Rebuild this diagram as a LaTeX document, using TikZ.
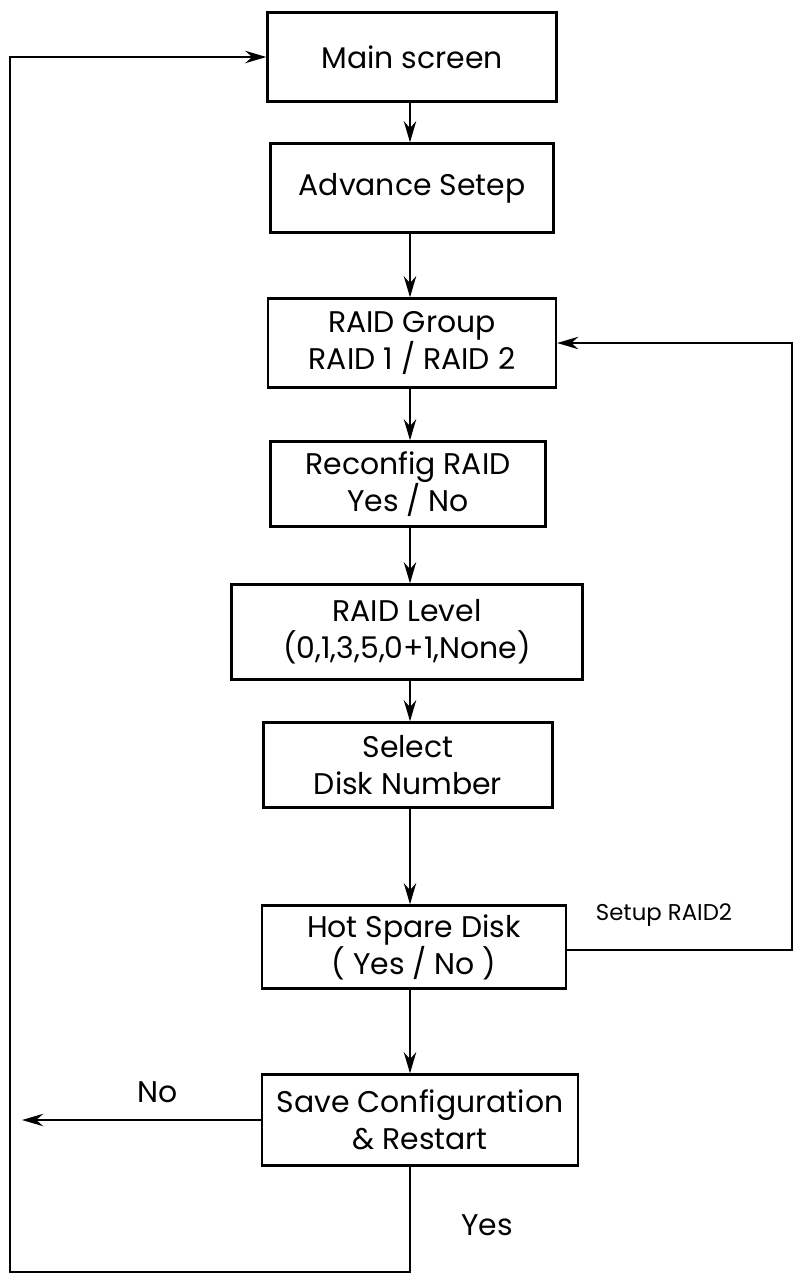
\documentclass[tikz,border=0pt]{standalone}
\usepackage{fontspec}
\setmainfont{Poppins}
\usepackage{tikz}
\usetikzlibrary{arrows.meta}
\tikzset{
  stepbox/.style={
    draw=black,line width=1.3pt,
    minimum height=1.78cm,
    font=\fontsize{17}{21}\selectfont,
    align=center,inner sep=2pt
  },
  flow/.style={
    line width=1.5pt,-{Stealth[length=12pt,width=7pt]}
  },
  lbl/.style={font=\fontsize{17}{20}\selectfont},
  smlbl/.style={font=\fontsize{13}{15}\selectfont},
}
\begin{document}
\begin{tikzpicture}[x=0.02cm,y=-0.02cm]
  \useasboundingbox (0,0) rectangle (796,1282);
  \node[stepbox, minimum width=5.78cm] (main) at (412, 57)  {Main screen};
  \node[stepbox, minimum width=5.66cm] (adv)  at (412,188)  {Advance Setep};
  \node[stepbox, minimum width=5.76cm] (grp)  at (412,343)  {RAID Group\\RAID 1 / RAID 2};
  \node[stepbox, minimum width=5.50cm, minimum height=1.70cm] (recfg) at (408,484) {Reconfig RAID\\Yes / No};
  \node[stepbox, minimum width=7.02cm, minimum height=1.90cm] (lvl) at (407,632) {RAID Level\\(0,1,3,5,0+1,None)};
  \node[stepbox, minimum width=5.78cm, minimum height=1.70cm] (sel) at (408,765) {Select\\Disk Number};
  \node[stepbox, minimum width=6.08cm, minimum height=1.66cm] (spare) at (414,947) {Hot Spare Disk\\( Yes / No )};
  \node[stepbox, minimum width=6.32cm, minimum height=1.82cm] (save) at (420,1120) {Save Configuration\\\& Restart};
  % main column
  \draw[flow] (main.south -| 410,0) -- (adv.north -| 410,0);
  \draw[flow] (adv.south -| 410,0) -- (grp.north -| 410,0);
  \draw[flow] (grp.south -| 410,0) -- (recfg.north -| 410,0);
  \draw[flow] (recfg.south -| 410,0) -- (lvl.north -| 410,0);
  \draw[flow] (lvl.south -| 410,0) -- (sel.north -| 410,0);
  \draw[flow] (sel.south -| 410,0) -- (spare.north -| 410,0);
  \draw[flow] (spare.south -| 410,0) -- (save.north -| 410,0);
  % back loops
  \coordinate (botleft) at (10,1272);
  \coordinate (rtcorner) at (792,950);
  \draw[flow] (save.south -| 410,0) |- (botleft) |- (main.west);
  \draw[flow] (save.west) -- (22,1120);
  \draw[flow] (spare.east |- rtcorner) -- (rtcorner) |- (grp.east);
  \node[lbl] (no) at (158,1092) {No};
  \node[lbl] (yes) at (487,1225) {Yes};
  \node[smlbl] (setup) at (664,915) {Setup RAID2};
\end{tikzpicture}
\end{document}
